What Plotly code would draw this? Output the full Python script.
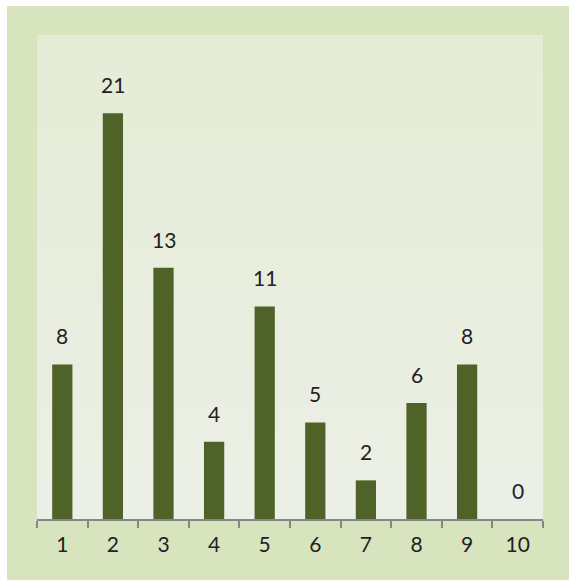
import plotly.graph_objects as go

# Category labels and counts for each bar
categories = ["1", "2", "3", "4", "5", "6", "7", "8", "9", "10"]
counts = [8, 21, 13, 4, 11, 5, 2, 6, 8, 0]

BAR_COLOR = "#4f6228"
FRAME_COLOR = "#d8e4bd"
AXIS_COLOR = "#878787"
TEXT_COLOR = "#222222"
FONT = "Lato"

W, H = 569, 580
L, R, T, B = 37, 26, 36, 61
pw, ph = W - L - R, H - T - B

fig = go.Figure(
    go.Bar(
        x=categories,
        y=counts,
        marker=dict(color=BAR_COLOR, line=dict(width=0)),
        hoverinfo="x+y",
    )
)

# value labels above each bar (category axes place annotations by index)
for i, v in enumerate(counts):
    fig.add_annotation(
        x=i, y=v, text=str(v), showarrow=False,
        yanchor="bottom", yshift=14,
        font=dict(family=FONT, size=21, color=TEXT_COLOR),
    )

shapes = []
# outer green frame (in paper units, extending beyond the plot area)
shapes.append(dict(
    type="rect", xref="paper", yref="paper", layer="below",
    x0=(7 - L) / pw, x1=(W - L) / pw,
    y0=-(H - (T + ph)) / ph, y1=1 + (T - 6) / ph,
    fillcolor=FRAME_COLOR, line=dict(width=0),
))

# soft vertical gradient inside the plot area
top_rgb = (228, 236, 214)
bot_rgb = (236, 239, 230)
n = 30
for i in range(n):
    t = i / (n - 1)
    col = tuple(round(top_rgb[k] + (bot_rgb[k] - top_rgb[k]) * t) for k in range(3))
    shapes.append(dict(
        type="rect", xref="paper", yref="paper", layer="below",
        x0=0, x1=1, y0=1 - (i + 1) / n, y1=1 - i / n + 0.002,
        fillcolor="rgb(%d,%d,%d)" % col, line=dict(width=0),
    ))

fig.update_layout(
    width=W, height=H,
    margin=dict(l=L, r=R, t=T, b=B, pad=0),
    paper_bgcolor="white",
    plot_bgcolor="rgba(0,0,0,0)",
    bargap=0.6,
    showlegend=False,
    shapes=shapes,
    font=dict(family=FONT, size=21, color=TEXT_COLOR),
    xaxis=dict(
        type="category",
        range=[-0.5, 9.5],
        showline=True, linecolor=AXIS_COLOR, linewidth=2,
        ticks="outside", tickson="boundaries", ticklen=7,
        tickwidth=2, tickcolor=AXIS_COLOR,
        ticklabelstandoff=6,
        tickfont=dict(family=FONT, size=21, color=TEXT_COLOR),
        showgrid=False, zeroline=False, fixedrange=True,
    ),
    yaxis=dict(
        range=[0, 25],
        visible=False, showgrid=False, zeroline=False, fixedrange=True,
    ),
)

fig.write_html("out.html")
